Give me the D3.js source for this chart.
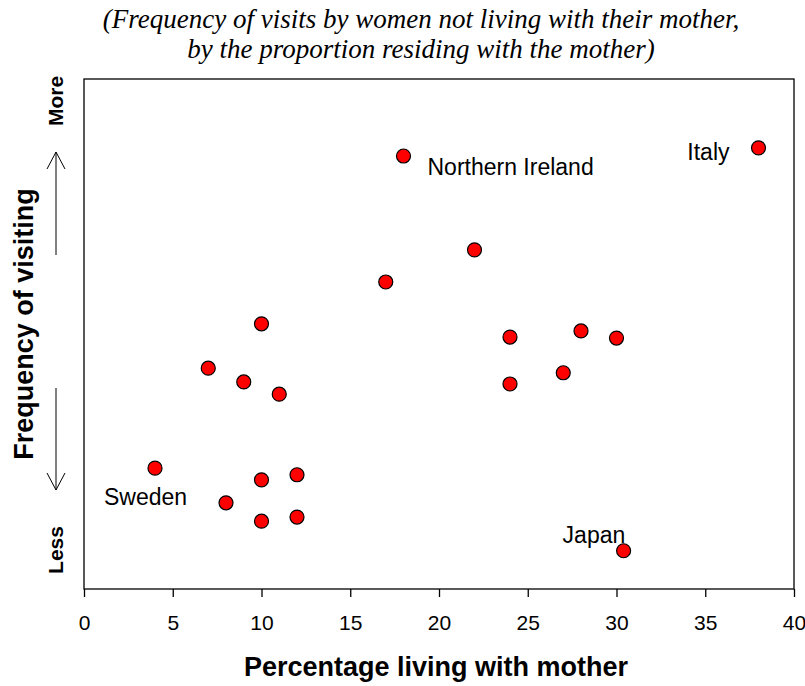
<!DOCTYPE html>
<html>
<head>
<meta charset="utf-8">
<script src="https://cdn.jsdelivr.net/npm/d3@7"></script>
<style>
body { margin: 0; background: #fff; }
</style>
</head>
<body>
<div id="mainContainer"></div>
<script>
// percentage living with mother
var pctWithMother = [38, 18, 22, 17, 10, 7, 9, 11, 24, 28, 30, 24, 27, 4, 10, 12, 8, 10, 12, 30.4];
// frequency of visiting (relative index, no scale shown)
var visitFreq = [86.5, 84.9, 66.5, 60.2, 52.0, 43.3, 40.6, 38.2, 49.4, 50.6, 49.2, 40.2, 42.4, 23.7, 21.4, 22.4, 16.9, 13.3, 14.1, 7.5];
var countryNames = ["Italy", "Northern Ireland", "", "", "", "", "", "", "", "", "", "", "", "Sweden", "", "", "", "", "", "Japan"];
var xTicks = [0, 5, 10, 15, 20, 25, 30, 35, 40];
var titleLines = ["(Frequency of visits by women not living with their mother,",
                  "by the proportion residing with the mother)"];

var dataArray = [];
for (var i = 0; i < pctWithMother.length; i++) {
    dataArray.push({x: pctWithMother[i], y: visitFreq[i], name: countryNames[i]});
}

// label offsets relative to the point
var labelOffset = {
    "Italy": {dx: -29, dy: 12, anchor: "end"},
    "Northern Ireland": {dx: 24, dy: 19, anchor: "start"},
    "Sweden": {dx: -51, dy: 37, anchor: "start"},
    "Japan": {dx: -61, dy: -8, anchor: "start"}
};

var margin = { top: 79, right: 11, bottom: 97, left: 84 },
    width = 805 - margin.left - margin.right,
    height = 686 - margin.top - margin.bottom;

var svg = d3.select('#mainContainer').append('svg')
    .attr('width', 805)
    .attr('height', 686);

svg.selectAll("text.title")
    .data(titleLines)
    .enter()
    .append("text")
    .attr("class", "title")
    .attr("x", 421)
    .attr("y", function (d, i) { return 28 + i * 30; })
    .attr("text-anchor", "middle")
    .attr("font-family", "'Liberation Serif', 'Times New Roman', serif")
    .attr("font-style", "italic")
    .attr("font-size", "27px")
    .text(function (d) { return d; });

var g = svg.append('g')
    .attr('transform', 'translate(' + margin.left + ',' + margin.top + ')');

var xscale = d3.scaleLinear()
    .domain([0, 40])
    .range([0, width]);

var yscale = d3.scaleLinear()
    .domain([0, 100])
    .range([height, 0]);

g.append("rect")
    .attr("x", 0)
    .attr("y", 0)
    .attr("width", width)
    .attr("height", height)
    .attr("fill", "none")
    .attr("stroke", "black")
    .attr("stroke-width", 1.3);

var xAxis = g.append("g")
    .attr("transform", "translate(0," + height + ")")
    .call(d3.axisBottom(xscale).tickValues(xTicks).tickSize(8).tickPadding(18).tickFormat(d3.format("d")));
xAxis.select(".domain").remove();
xAxis.selectAll("line").attr("stroke", "black").attr("stroke-width", 1.3);
xAxis.selectAll("text")
    .attr("font-family", "'Liberation Sans', Arial, sans-serif")
    .attr("font-size", "21px")
    .attr("fill", "black");

svg.append("text")
    .attr("x", 436)
    .attr("y", 676)
    .attr("text-anchor", "middle")
    .attr("font-family", "'Liberation Sans', Arial, sans-serif")
    .attr("font-weight", "bold")
    .attr("font-size", "27px")
    .text("Percentage living with mother");

// y axis title
svg.append("text")
    .attr("transform", "translate(33,324) rotate(-90)")
    .attr("text-anchor", "middle")
    .attr("font-family", "'Liberation Sans', Arial, sans-serif")
    .attr("font-weight", "bold")
    .attr("font-size", "27px")
    .text("Frequency of visiting");

svg.append("text")
    .attr("transform", "translate(63,101) rotate(-90)")
    .attr("text-anchor", "middle")
    .attr("font-family", "'Liberation Sans', Arial, sans-serif")
    .attr("font-weight", "bold")
    .attr("font-size", "21px")
    .text("More");

svg.append("text")
    .attr("transform", "translate(63,550) rotate(-90)")
    .attr("text-anchor", "middle")
    .attr("font-family", "'Liberation Sans', Arial, sans-serif")
    .attr("font-weight", "bold")
    .attr("font-size", "21px")
    .text("Less");

// arrows
var arrowG = svg.append("g")
    .attr("stroke", "black")
    .attr("stroke-width", 1)
    .attr("fill", "none");
arrowG.append("path").attr("d", "M56,255 L56,152 M47,169 L56,152 L65,169");
arrowG.append("path").attr("d", "M56,388 L56,490 M47,473 L56,490 L65,473");

g.append('g')
    .selectAll("circle")
    .data(dataArray)
    .enter()
    .append("circle")
    .attr("cx", function (d) { return xscale(d.x); })
    .attr("cy", function (d) { return yscale(d.y); })
    .attr("r", 7)
    .style("fill", "#ff0000")
    .style("stroke", "black")
    .style("stroke-width", 1.2);

g.append('g')
    .selectAll("text")
    .data(dataArray.filter(function (d) { return d.name !== ""; }))
    .enter()
    .append("text")
    .attr("x", function (d) { return xscale(d.x) + labelOffset[d.name].dx; })
    .attr("y", function (d) { return yscale(d.y) + labelOffset[d.name].dy; })
    .attr("text-anchor", function (d) { return labelOffset[d.name].anchor; })
    .attr("font-family", "'Liberation Sans', Arial, sans-serif")
    .attr("font-size", "23px")
    .attr("fill", "black")
    .text(function (d) { return d.name; });
</script>
</body>
</html>
